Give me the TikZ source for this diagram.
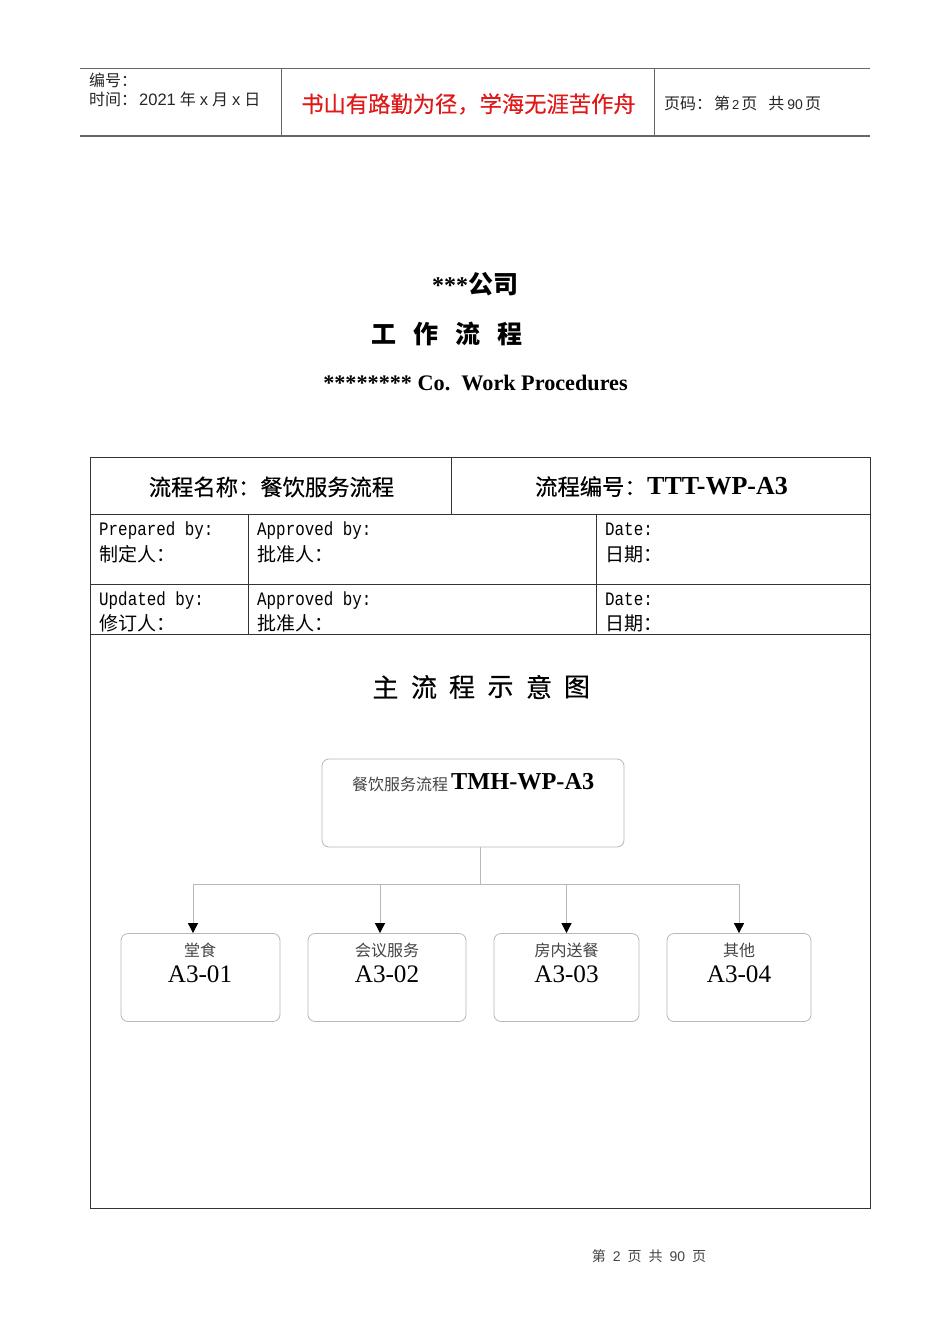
\documentclass[tikz,border=0pt]{standalone}
\usepackage{fontspec}
\usepackage{xcolor}
\usetikzlibrary{arrows.meta}
\setmainfont{Liberation Serif}
\newfontfamily\cjk{Noto Sans CJK SC}
\newfontfamily\cjkm[FakeBold=0.35]{Noto Sans CJK SC}
\newfontfamily\hdfont{Liberation Sans}
\newfontfamily\narrowmono[FakeStretch=0.835]{Liberation Mono}
\definecolor{rule}{HTML}{333333}
\definecolor{hdrule}{HTML}{666666}
\definecolor{boxline}{HTML}{B8B8B8}
\definecolor{motto}{HTML}{E01A1A}
\definecolor{soft}{HTML}{444444}
\newcommand{\fs}[1]{\fontsize{#1}{#1}\selectfont}
\tikzset{
  frame/.style={draw=rule, line width=0.8pt},
  hdline/.style={draw=hdrule, line width=0.8pt},
  hdlab/.style={anchor=west, inner sep=0pt, font=\cjk\fs{16}, text=black!85},
  rowlab/.style={anchor=west, inner sep=0pt, font=\cjk\fs{19}, align=left},
  rowen/.style={anchor=base west, inner sep=0pt, font=\narrowmono\fs{19}},
  title/.style={inner sep=0pt, font=\cjk\bfseries\fs{25}},
  chartlab/.style={inner sep=0pt, font=\cjkm\fs{26}},
  stepbox/.style={draw=boxline, line width=0.8pt, rounded corners=7pt, inner sep=0pt, minimum height=88pt},
  boxcn/.style={inner sep=0pt, font=\cjk\fs{16}, text=soft},
  boxid/.style={inner sep=0pt, font=\fs{25.2}},
  flow/.style={draw=boxline, line width=0.8pt},
  flowarr/.style={flow, -{Triangle[length=10pt,width=10pt,color=black]}},
}
\begin{document}
\begin{tikzpicture}[x=1pt,y=-1pt]
  \useasboundingbox (0,0) rectangle (950,1344);
  \fill[white] (0,0) rectangle (950,1344);

  % page header
  \draw[hdline] (80,68.5) -- (870,68.5);
  \draw[hdline, line width=1.2pt] (80,136) -- (870,136);
  \draw[hdline] (281,68.5) -- (281,136);
  \draw[hdline] (654.5,68.5) -- (654.5,136);
  \node[hdlab] (hdno) at (89,80) {编号：};
  \node[hdlab] (hdtime) at (89,99) {时间：\hspace{2pt}{\hdfont\fs{16.5}2021}\hspace{4pt}年\hspace{4pt}{\hdfont\fs{16.5}x}\hspace{4pt}月\hspace{4pt}{\hdfont\fs{16.5}x}\hspace{4pt}日};
  \node[inner sep=0pt, font=\cjkm\fs{22.3}, text=motto] (hdmotto) at (468.5,104) {书山有路勤为径，学海无涯苦作舟};
  \node[hdlab] (hdpage) at (664,103.5) {页码：\hspace{2pt}第\hspace{2pt}{\hdfont\fs{13}2}\hspace{2pt}页\hspace{11pt}共\hspace{3pt}{\hdfont\fs{14}90}\hspace{2pt}页};

  % titles
  \node[title] (tcompany) at (475,284) {{\fs{24}\bfseries\rmfamily ***}公司};
  \node[title] (tprocA) at (384,334) {工};
  \node[title] (tprocB) at (426,334) {作};
  \node[title] (tprocC) at (468,334) {流};
  \node[title] (tprocD) at (510,334) {程};
  \node[inner sep=0pt, font=\bfseries\fs{22.2}] (tenglish) at (475.5,382.5) {******** Co.\ \ Work Procedures};

  % form table
  \draw[frame] (90.5,457) rectangle (870.5,1208);
  \draw[frame] (90.5,514.5) -- (870.5,514.5);
  \draw[frame] (90.5,584.5) -- (870.5,584.5);
  \draw[frame] (90.5,634.5) -- (870.5,634.5);
  \draw[frame] (451.5,457) -- (451.5,514.5);
  \draw[frame] (248.5,514.5) -- (248.5,634.5);
  \draw[frame] (596.5,514.5) -- (596.5,634.5);

  \node[inner sep=0pt, font=\cjkm\fs{22.3}] (fname) at (271.5,487) {流程名称：餐饮服务流程};
  \node[inner sep=0pt, anchor=west, font=\cjkm\fs{22.3}] (fcode) at (535,486.5) {流程编号：};
  \node[inner sep=0pt, anchor=west, font=\bfseries\fs{26}] (fcodeid) at (647,486.5) {TTT-WP-A3};

  \node[rowen] (prep) at (99,535.5) {Prepared by:};
  \node[rowlab] (prepcn) at (99,554) {制定人：};
  \node[rowen] (appr) at (257,535.5) {Approved by:};
  \node[rowlab] (apprcn) at (257,554) {批准人：};
  \node[rowen] (date) at (605,535.5) {Date:};
  \node[rowlab] (datecn) at (605,554) {日期：};
  \node[rowen] (upd) at (99,605.5) {Updated by:};
  \node[rowlab] (updcn) at (99,623.5) {修订人：};
  \node[rowen] (apprb) at (257,605.5) {Approved by:};
  \node[rowlab] (apprbcn) at (257,623.5) {批准人：};
  \node[rowen] (dateb) at (605,605.5) {Date:};
  \node[rowlab] (datebcn) at (605,623.5) {日期：};

  % chart heading
  \node[chartlab] (chartA) at (385.5,687) {主};
  \node[chartlab] (chartB) at (424,687) {流};
  \node[chartlab] (chartC) at (462,687) {程};
  \node[chartlab] (chartD) at (500.5,687) {示};
  \node[chartlab] (chartE) at (539,687) {意};
  \node[chartlab] (chartF) at (577,687) {图};

  % chart boxes
  \node[stepbox, minimum width=302pt] (mainbox) at (473,803) {};
  \node[stepbox, minimum width=159pt] (boxA) at (200.5,977.5) {};
  \node[stepbox, minimum width=158pt] (boxB) at (387,977.5) {};
  \node[stepbox, minimum width=145pt] (boxC) at (566.5,977.5) {};
  \node[stepbox, minimum width=144pt] (boxD) at (739,977.5) {};

  \node[boxcn, anchor=west] (maincn) at (352,784) {餐饮服务流程};
  \node[inner sep=0pt, anchor=west, font=\bfseries\fs{24.3}] (mainid) at (451,782) {TMH-WP-A3};
  \node[boxcn] (cnA) at (200,950) {堂食};
  \node[boxid] (idA) at (200,974) {A3-01};
  \node[boxcn] (cnB) at (387,950) {会议服务};
  \node[boxid] (idB) at (387,974) {A3-02};
  \node[boxcn] (cnC) at (566.5,950) {房内送餐};
  \node[boxid] (idC) at (566.5,974) {A3-03};
  \node[boxcn] (cnD) at (739,950) {其他};
  \node[boxid] (idD) at (739,974) {A3-04};

  % connectors
  \coordinate (trunktop) at (480,847);
  \coordinate (trunk) at (480,884);
  \coordinate (busA) at (193,884);
  \coordinate (busB) at (380,884);
  \coordinate (busC) at (566.5,884);
  \coordinate (busD) at (739,884);
  \draw[flow] (trunktop) -- (trunk);
  \draw[flow] (busA) -- (busD);
  \draw[flowarr] (busA) -- (busA |- boxA.north);
  \draw[flowarr] (busB) -- (busB |- boxB.north);
  \draw[flowarr] (busC) -- (busC |- boxC.north);
  \draw[flowarr] (busD) -- (busD |- boxD.north);

  % page footer
  \node[inner sep=0pt, font=\cjk\fs{14}, text=soft] (footer) at (649,1256) {第\hspace{7pt}{\hdfont 2}\hspace{7pt}页\hspace{7pt}共\hspace{7pt}{\hdfont 90}\hspace{7pt}页};
\end{tikzpicture}
\end{document}
